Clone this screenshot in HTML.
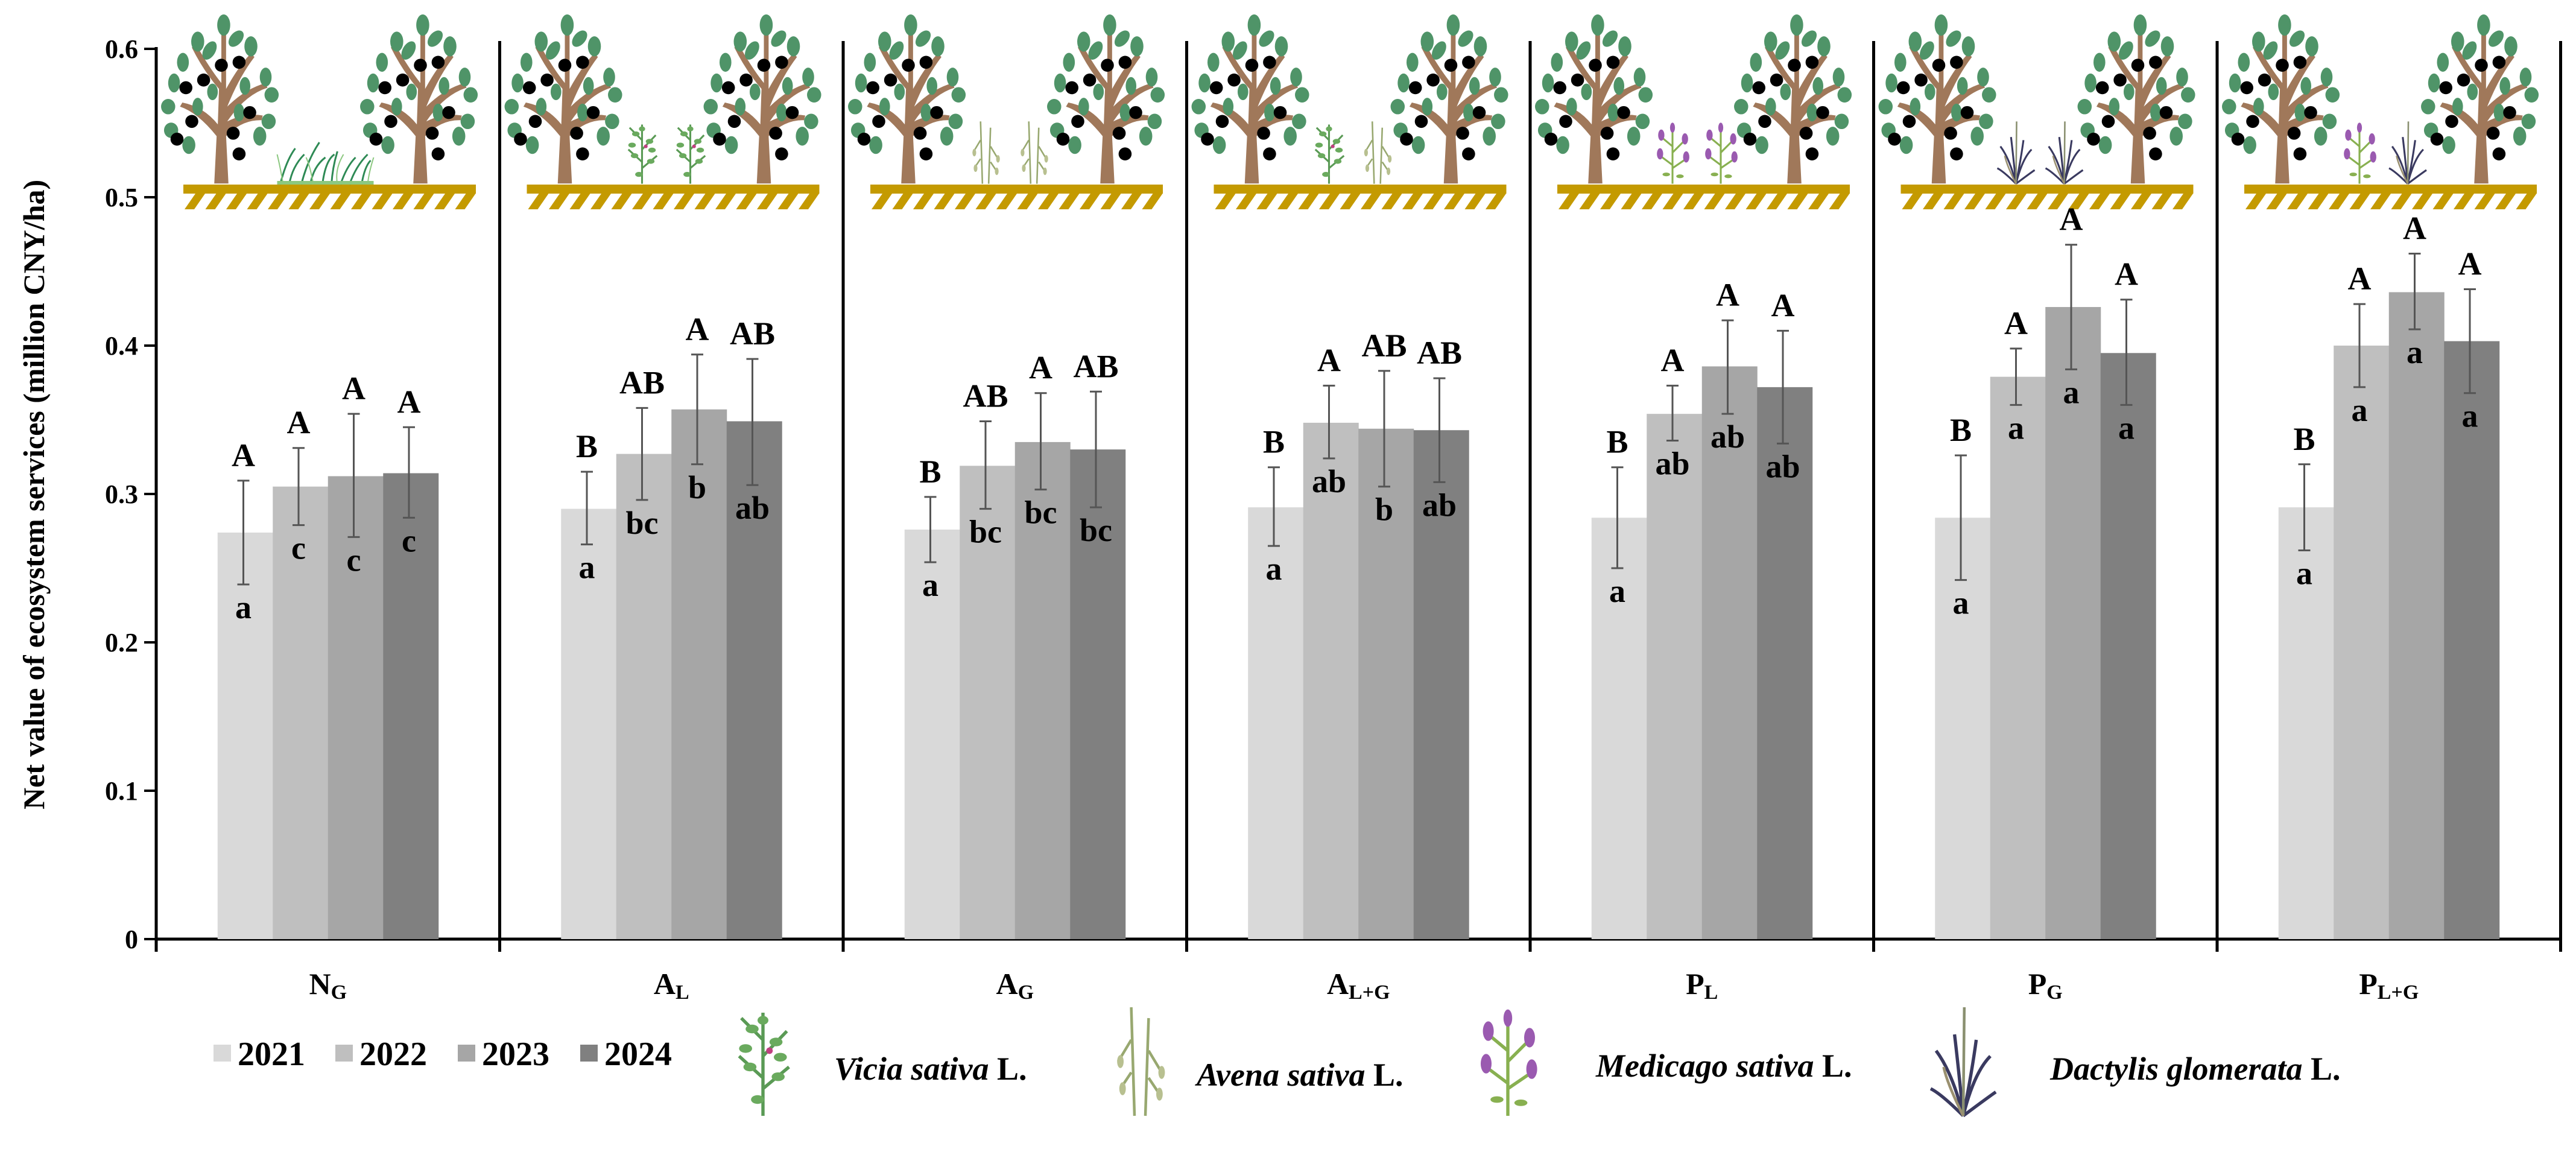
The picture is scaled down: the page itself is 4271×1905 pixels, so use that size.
<!DOCTYPE html>
<html><head><meta charset="utf-8"><style>
html,body{margin:0;padding:0;background:#fff;}
svg, svg text{font-family:"Liberation Serif","DejaVu Serif",serif;font-weight:bold;}
</style></head><body>
<svg id="chart" xmlns="http://www.w3.org/2000/svg" width="4271" height="1900" viewBox="0 0 4271 1900" font-family="Liberation Serif, DejaVu Serif, serif" font-weight="bold">
<defs>
<symbol id="tree" viewBox="0 0 200 280" overflow="visible">
  <path d="M88 280 L92 200 Q60 160 30 150 L34 143 Q70 150 94 180 L96 120 Q70 90 50 50 L58 46 Q80 85 100 110 L100 10 L108 10 L108 120 Q130 80 150 60 L156 66 Q130 100 110 150 Q140 120 175 110 L178 118 Q140 130 110 175 Q140 160 170 165 L168 173 Q135 172 108 200 L112 280 Z" fill="#a0785a"/>
  <g fill="#4f9468">
    <ellipse cx="104" cy="12" rx="11" ry="18"/><ellipse cx="60" cy="40" rx="11" ry="17"/><ellipse cx="150" cy="48" rx="11" ry="17"/>
    <ellipse cx="35" cy="75" rx="10" ry="16"/><ellipse cx="80" cy="55" rx="10" ry="17" transform="rotate(30 80 55)"/><ellipse cx="125" cy="35" rx="10" ry="16" transform="rotate(40 125 35)"/>
    <ellipse cx="20" cy="110" rx="10" ry="16"/><ellipse cx="175" cy="100" rx="10" ry="16"/><ellipse cx="185" cy="130" rx="12" ry="13"/>
    <ellipse cx="10" cy="150" rx="12" ry="13"/><ellipse cx="15" cy="190" rx="12" ry="13"/><ellipse cx="180" cy="175" rx="12" ry="13"/>
    <ellipse cx="140" cy="115" rx="9" ry="15"/><ellipse cx="60" cy="150" rx="9" ry="15"/><ellipse cx="165" cy="200" rx="11" ry="16"/>
    <ellipse cx="45" cy="215" rx="11" ry="15"/><ellipse cx="130" cy="160" rx="9" ry="15"/><ellipse cx="85" cy="125" rx="9" ry="14"/>
  </g>
  <g fill="#000">
    <circle cx="70" cy="105" r="11"/><circle cx="100" cy="80" r="11"/><circle cx="130" cy="75" r="11"/>
    <circle cx="40" cy="118" r="11"/><circle cx="50" cy="175" r="11"/><circle cx="148" cy="160" r="11"/>
    <circle cx="120" cy="195" r="11"/><circle cx="25" cy="205" r="11"/><circle cx="130" cy="230" r="11"/>
  </g>
</symbol>
<symbol id="vicia" viewBox="0 0 60 100" overflow="visible">
  <g stroke="#5a9a55" stroke-width="3" fill="none"><path d="M30 100 L30 5 M30 30 L10 10 M30 45 L52 22 M30 65 L8 45 M30 75 L54 55"/></g>
  <g fill="#6aaa5e"><ellipse cx="20" cy="20" rx="6" ry="4"/><ellipse cx="42" cy="32" rx="6" ry="4"/><ellipse cx="18" cy="55" rx="6" ry="4"/><ellipse cx="44" cy="64" rx="6" ry="4"/><ellipse cx="30" cy="12" rx="5" ry="4"/><ellipse cx="25" cy="85" rx="6" ry="4"/><ellipse cx="14" cy="38" rx="6" ry="4"/><ellipse cx="46" cy="46" rx="6" ry="4"/></g>
  <circle cx="36" cy="40" r="3" fill="#c04080"/>
</symbol>
<symbol id="avena" viewBox="0 0 60 100" overflow="visible">
  <g stroke="#98a870" stroke-width="2.5" fill="none"><path d="M25 100 L22 0 M35 100 L38 10 M22 30 L10 50 M38 40 L50 60 M22 60 L12 75 M38 65 L48 80"/></g>
  <g fill="#b8c090"><ellipse cx="12" cy="50" rx="3" ry="6"/><ellipse cx="50" cy="60" rx="3" ry="6"/><ellipse cx="14" cy="75" rx="3" ry="6"/><ellipse cx="48" cy="80" rx="3" ry="6"/></g>
</symbol>
<symbol id="medicago" viewBox="0 0 60 100" overflow="visible">
  <g stroke="#88b050" stroke-width="3" fill="none"><path d="M30 100 L30 10 M30 40 L12 25 M30 50 L50 30 M30 70 L10 55 M30 75 L52 60"/></g>
  <g fill="#9a5ab0"><ellipse cx="12" cy="22" rx="5" ry="9"/><ellipse cx="50" cy="28" rx="5" ry="9"/><ellipse cx="10" cy="52" rx="5" ry="9"/><ellipse cx="52" cy="57" rx="5" ry="9"/><ellipse cx="30" cy="10" rx="4" ry="8"/></g>
  <g fill="#88b050"><ellipse cx="20" cy="85" rx="6" ry="3"/><ellipse cx="42" cy="88" rx="6" ry="3"/></g>
</symbol>
<symbol id="dactylis" viewBox="0 0 60 100" overflow="visible">
  <g stroke="#3a3a60" stroke-width="3" fill="none"><path d="M30 100 Q20 60 5 40 M30 100 Q40 60 55 45 M30 100 Q25 50 22 25 M30 100 Q38 60 42 30 M30 100 Q10 80 0 75 M30 100 Q50 85 60 78"/></g>
  <path d="M30 100 L31 0" stroke="#8a9070" stroke-width="2.5"/>
  <path d="M30 100 Q15 70 12 55" stroke="#9a9070" stroke-width="2.5" fill="none"/>
</symbol>
<symbol id="grass" viewBox="0 0 160 70" overflow="visible">
  <g stroke="#2e8a55" stroke-width="3" fill="none">
    <path d="M5 70 Q15 30 30 10 M20 70 Q25 40 45 20 M40 70 Q50 30 70 0 M55 70 Q60 40 80 25 M75 70 Q80 30 95 20 M90 70 Q92 40 100 15 M105 70 Q115 40 130 25 M120 70 Q130 40 150 20 M140 70 Q145 40 155 30"/>
  </g>
  <g stroke="#8cc880" stroke-width="2" fill="none"><path d="M10 70 Q5 40 0 20 M60 70 Q55 40 48 25 M100 70 Q95 45 110 20 M150 70 Q152 50 160 25"/></g>
  <rect x="0" y="64" width="160" height="6" fill="#8cc880"/>
</symbol>
</defs>
<g id="plot"></g>
</svg>
<script>
const categories = ["N", "A", "A", "A", "P", "P", "P"];
const catSubs = ["G", "L", "G", "L+G", "L", "G", "L+G"];
const years = ["2021", "2022", "2023", "2024"];
const values2021 = [0.274, 0.290, 0.276, 0.291, 0.284, 0.284, 0.291];
const values2022 = [0.305, 0.327, 0.319, 0.348, 0.354, 0.379, 0.400];
const values2023 = [0.312, 0.357, 0.335, 0.344, 0.386, 0.426, 0.436];
const values2024 = [0.314, 0.349, 0.330, 0.343, 0.372, 0.395, 0.403];
const errLow2021 = [0.239, 0.266, 0.254, 0.265, 0.250, 0.242, 0.262];
const errHigh2021 = [0.309, 0.315, 0.298, 0.318, 0.318, 0.326, 0.320];
const errLow2022 = [0.279, 0.296, 0.290, 0.324, 0.336, 0.360, 0.372];
const errHigh2022 = [0.331, 0.358, 0.349, 0.373, 0.373, 0.398, 0.428];
const errLow2023 = [0.271, 0.320, 0.303, 0.305, 0.354, 0.384, 0.411];
const errHigh2023 = [0.354, 0.394, 0.368, 0.383, 0.417, 0.468, 0.462];
const errLow2024 = [0.284, 0.306, 0.291, 0.308, 0.334, 0.360, 0.368];
const errHigh2024 = [0.345, 0.391, 0.369, 0.378, 0.410, 0.431, 0.438];
const upper2021 = ["A","B","B","B","B","B","B"];
const upper2022 = ["A","AB","AB","A","A","A","A"];
const upper2023 = ["A","A","A","AB","A","A","A"];
const upper2024 = ["A","AB","AB","AB","A","A","A"];
const lower2021 = ["a","a","a","a","a","a","a"];
const lower2022 = ["c","bc","bc","ab","ab","a","a"];
const lower2023 = ["c","b","bc","b","ab","a","a"];
const lower2024 = ["c","ab","bc","ab","ab","a","a"];
const yTicks = [0, 0.1, 0.2, 0.3, 0.4, 0.5, 0.6];
const yTickLabels = ["0", "0.1", "0.2", "0.3", "0.4", "0.5", "0.6"];
const species = ["Vicia sativa", "Avena sativa", "Medicago sativa", "Dactylis glomerata"];
const groupPlants = [["grass"], ["vicia","vicia"], ["avena","avena"], ["vicia","avena"], ["medicago","medicago"], ["dactylis","dactylis"], ["medicago","dactylis"]];

const series = [values2021, values2022, values2023, values2024];
const lows = [errLow2021, errLow2022, errLow2023, errLow2024];
const highs = [errHigh2021, errHigh2022, errHigh2023, errHigh2024];
const uppers = [upper2021, upper2022, upper2023, upper2024];
const lowers = [lower2021, lower2022, lower2023, lower2024];
const colors = ["#d9d9d9", "#bfbfbf", "#a6a6a6", "#808080"];

const NS = "http://www.w3.org/2000/svg";
const FONT = "Liberation Serif, DejaVu Serif, serif";
const plot = document.getElementById("plot");
const X0 = 259, GW = 569.5, Y0 = 1557, YPX = 2460, BW = 91.5;
function y(v){ return Y0 - v * YPX; }
function gx(i){ return X0 + i * GW; }
function el(tag, attrs, parent){ const e = document.createElementNS(NS, tag); for (const k in attrs) e.setAttribute(k, attrs[k]); if (tag === "text") { e.setAttribute("font-family", FONT); e.setAttribute("font-weight", "bold"); } (parent||plot).appendChild(e); return e; }

// illustrations
for (let i = 0; i < categories.length; i++) {
  const g = el("g", {});
  
  
  const gl = gx(i);
  el("rect", {x: gl+45, y: 306, width: 485, height: 15, fill: "#c49a00"}, g);
  for (let h = 0; h < 14; h++) {
    const hx = gl + 65 + h * 34.5;
    el("path", {d: `M${hx} 321 L${hx+16} 321 L${hx-2} 347 L${hx-18} 347 Z`, fill: "#c49a00"}, g);
  }
  el("use", {href: "#tree", x: gl+10, y: 28, width: 196, height: 278, preserveAspectRatio: "none"}, g);
  el("use", {href: "#tree", x: gl+340, y: 28, width: 196, height: 278, preserveAspectRatio: "none"}, g);
  const pl = groupPlants[i];
  if (pl.length === 1) {
    el("use", {href: "#grass", x: gl+198, y: 236, width: 165, height: 70, preserveAspectRatio: "none"}, g);
  } else {
    el("use", {href: "#" + pl[0], x: gl+205, y: 200, width: 62, height: 106, preserveAspectRatio: "none"}, g);
    el("use", {href: "#" + pl[1], x: gl+285, y: 200, width: 62, height: 106, preserveAspectRatio: "none"}, g);
  }
}

// y axis
const yAxis = el("g", {});


el("line", {x1: X0, y1: y(0.6)-3, x2: X0, y2: Y0+3, stroke: "#000", "stroke-width": 5}, yAxis);
for (let t = 0; t < yTicks.length; t++) {
  el("line", {x1: X0-20, y1: y(yTicks[t]), x2: X0, y2: y(yTicks[t]), stroke: "#000", "stroke-width": 4}, yAxis);
  const tl = el("text", {x: X0-30, y: y(yTicks[t])+15, "text-anchor": "end", "font-size": 44}, yAxis);
  tl.textContent = yTickLabels[t];
  
  
}
const yt = el("text", {x: 0, y: 0, "text-anchor": "middle", "font-size": 50, transform: "translate(73,820) rotate(-90)"});
yt.textContent = "Net value of ecosystem services (million CNY/ha)";



// x axis & dividers
const xAxis = el("g", {});


el("line", {x1: X0, y1: Y0, x2: gx(7)+2, y2: Y0, stroke: "#000", "stroke-width": 5}, xAxis);
el("line", {x1: X0, y1: Y0, x2: X0, y2: 1578, stroke: "#000", "stroke-width": 5}, xAxis);
for (let i = 1; i <= 7; i++) {
  const d = el("line", {x1: gx(i), y1: 68, x2: gx(i), y2: 1578, stroke: "#000", "stroke-width": 5}, xAxis);
  
  
}

// bars
for (let i = 0; i < categories.length; i++) {
  const c = gx(i) + GW/2;
  for (let s = 0; s < series.length; s++) {
    const bx = c - 2*BW + s*BW;
    const v = series[s][i];
    const r = el("rect", {x: bx, y: y(v), width: BW+0.5, height: Y0 - y(v), fill: colors[s]});
    
    
    const ex = bx + BW/2 - 3;
    const eb = el("g", {stroke: "#555", "stroke-width": 3});
    
    
    el("line", {x1: ex, y1: y(highs[s][i]), x2: ex, y2: y(lows[s][i])}, eb);
    el("line", {x1: ex-10, y1: y(highs[s][i]), x2: ex+10, y2: y(highs[s][i])}, eb);
    el("line", {x1: ex-10, y1: y(lows[s][i]), x2: ex+10, y2: y(lows[s][i])}, eb);
    const ut = el("text", {x: ex, y: y(highs[s][i]) - 24, "text-anchor": "middle", "font-size": 54});
    ut.textContent = uppers[s][i];
    
    
    const lt = el("text", {x: ex, y: y(lows[s][i]) + 56, "text-anchor": "middle", "font-size": 54});
    lt.textContent = lowers[s][i];
    
    
  }
  const cl = el("text", {x: c, y: 1648, "text-anchor": "middle", "font-size": 50});
  
  
  const t1 = document.createElementNS(NS, "tspan"); t1.textContent = categories[i]; cl.appendChild(t1);
  const t2 = document.createElementNS(NS, "tspan"); t2.setAttribute("font-size", "34"); t2.setAttribute("dy", "8"); t2.textContent = catSubs[i]; cl.appendChild(t2);
}

// legend
const legXs = [354, 556, 759, 962];
for (let s = 0; s < years.length; s++) {
  const lg = el("g", {});
  
  
  el("rect", {x: legXs[s], y: 1732, width: 29, height: 28, fill: colors[s]}, lg);
  const tx = el("text", {x: legXs[s]+40, y: 1766, "font-size": 56}, lg);
  tx.textContent = years[s];
}
const spX = [1383, 1984, 2646, 3399];
const spY = [1790, 1800, 1785, 1790];
const spIcon = ["vicia", "avena", "medicago", "dactylis"];
const spIconX = [1205, 1830, 2440, 3195];
for (let k = 0; k < species.length; k++) {
  const sg = el("g", {});
  
  
  el("use", {href: "#" + spIcon[k], x: spIconX[k], y: 1670, width: 120, height: 180, preserveAspectRatio: "none"}, sg);
  const st = el("text", {x: spX[k], y: spY[k], "font-size": 54}, sg);
  const a = document.createElementNS(NS, "tspan"); a.setAttribute("font-style", "italic"); a.textContent = species[k]; st.appendChild(a);
  const b = document.createElementNS(NS, "tspan"); b.textContent = " L."; st.appendChild(b);
}
</script>
</body></html>
